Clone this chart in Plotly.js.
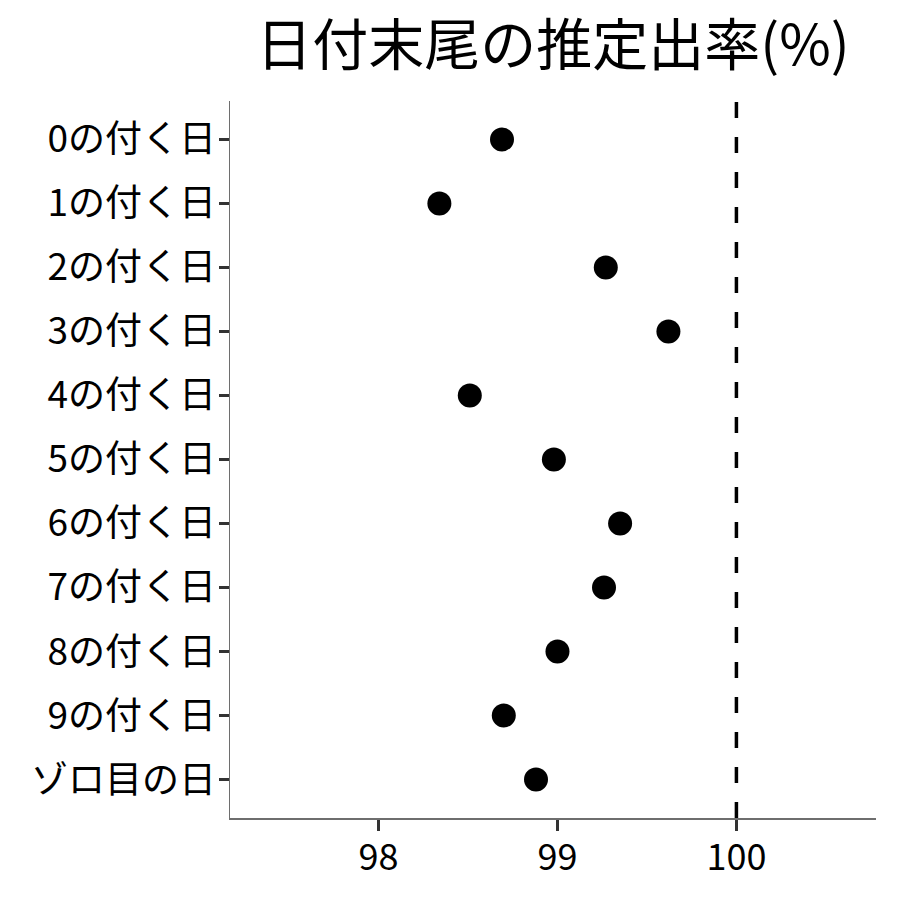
<!DOCTYPE html>
<html>
<head>
<meta charset="utf-8">
<script src="https://cdn.plot.ly/plotly-3.0.1.min.js"></script>
<style>
  html, body { margin: 0; padding: 0; background: #fff; }
  #chart { width: 900px; height: 900px; }
</style>
</head>
<body>
<div id="chart"></div>
<script>
// 日付末尾ごとの推定出率
const categories = ['0の付く日', '1の付く日', '2の付く日', '3の付く日', '4の付く日',
    '5の付く日', '6の付く日', '7の付く日', '8の付く日', '9の付く日', 'ゾロ目の日'];
const rates = [98.69, 98.34, 99.27, 99.62, 98.51, 98.98, 99.35, 99.26, 99.00, 98.70, 98.88];
const xTicks = [98, 99, 100];
const refLine = 100;
const xRange = [97.17, 100.78];

const font = 'Noto Sans CJK JP, Noto Sans, sans-serif';

const data = [{
    x: rates,
    y: categories,
    type: 'scatter',
    mode: 'markers',
    marker: { color: '#000', size: 24 },
    hoverinfo: 'x+y'
}];

const layout = {
    width: 900,
    height: 900,
    paper_bgcolor: '#fff',
    plot_bgcolor: '#fff',
    margin: { t: 101, r: 24, b: 82, l: 230 },
    showlegend: false,
    font: { family: font, color: '#000' },
    title: {
        text: '日付末尾の推定出率(%)',
        font: { size: 56, family: font, color: '#000' },
        x: 0.5, xref: 'paper', xanchor: 'center',
        y: 0.95, yref: 'container', yanchor: 'middle'
    },
    xaxis: {
        range: xRange,
        tickvals: xTicks,
        ticktext: xTicks.map(String),
        showgrid: false,
        zeroline: false,
        showline: true,
        linecolor: '#6e6e6e',
        linewidth: 1.5,
        ticks: 'outside',
        ticklen: 11,
        tickwidth: 3,
        tickcolor: '#333',
        ticklabelstandoff: -4,
        tickfont: { size: 36, family: font, color: '#000' }
    },
    yaxis: {
        type: 'category',
        categoryorder: 'array',
        categoryarray: categories,
        range: [categories.length - 0.4, -0.6],
        showgrid: false,
        zeroline: false,
        showline: true,
        linecolor: '#6e6e6e',
        linewidth: 1.5,
        ticks: 'outside',
        ticklen: 10,
        tickwidth: 3,
        tickcolor: '#333',
        ticklabelstandoff: -5,
        tickfont: { size: 37, family: font, color: '#000' }
    },
    shapes: [{
        type: 'line',
        xref: 'x', yref: 'paper',
        x0: refLine, x1: refLine, y0: 0, y1: 1,
        line: { color: '#000', width: 3.5, dash: '16px,19px' }
    }]
};

Plotly.newPlot('chart', data, layout, { displayModeBar: false, staticPlot: true });
</script>
</body>
</html>
